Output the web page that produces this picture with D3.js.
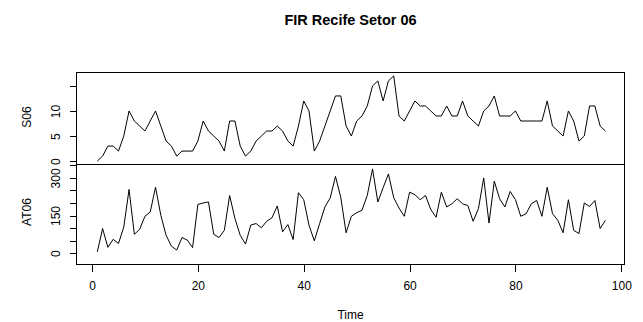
<!DOCTYPE html>
<html>
<head>
<meta charset="utf-8">
<script src="https://cdn.jsdelivr.net/npm/d3@7/dist/d3.min.js"></script>
<style>
  html, body { margin: 0; padding: 0; background: #fff; }
  svg { display: block; }
  text { font-family: "Liberation Sans", Arial, sans-serif; fill: #000; }
</style>
</head>
<body>
<svg id="chart" width="643" height="322"></svg>
<script>
// ---- data ----
const title = "FIR Recife Setor 06";
const xLabel = "Time";
const seriesNames = ["S06", "AT06"];
const S06 = [0,1,3,3,2,5,10,8,7,6,8,10,7,4,3,1,2,2,2,4,8,6,5,4,2,8,8,3,1,2,
  4,5,6,6,7,6,4,3,7,12,10,2,4,7,10,13,13,7,5,8,9,11,15,16,12,16,17,9,8,10,
  12,11,11,10,9,9,11,9,9,12,9,8,7,10,11,13,9,9,9,10,8,8,8,8,8,12,7,6,5,10,
  8,4,5,11,11,7,6];
const AT06 = [5,98,23,55,38,104,254,75,95,147,164,263,151,71,28,12,62,52,22,194,
  200,204,75,62,91,230,138,71,36,112,118,101,127,141,188,85,114,54,241,213,
  111,49,118,184,220,306,222,81,147,161,171,230,336,204,261,316,221,180,147,243,
  233,213,230,174,143,243,184,197,217,197,190,127,177,300,120,287,217,184,246,213,
  147,157,197,210,147,263,157,131,81,213,91,78,200,186,210,98,131];
const startTime = 1;
const xTicks = [0, 20, 40, 60, 80, 100];
const topTicks = [0, 5, 10, 15];
const topTickLabels = ["0", "5", "10", ""];
const botTicks = [0, 50, 100, 150, 200, 250, 300, 350];
const botTickLabels = ["0", "", "", "150", "", "", "300", ""];

// ---- layout ----
const svg = d3.select("#chart");
const L = 76.5, R = 624.5, T = 72.5, M = 164.5, B = 264.5;
const FONT = '"Liberation Sans", Arial, sans-serif';

const x = d3.scaleLinear().domain([-2.93, 100.6]).range([L, R]);
const yTop = d3.scaleLinear().domain([-0.68, 17.68]).range([M, T]);
const yBot = d3.scaleLinear().domain([-45.5, 353.6]).range([B, M]);

const time = S06.map((d, i) => startTime + i);

// series lines
const lineTop = d3.line().x((d, i) => x(time[i])).y(d => yTop(d));
const lineBot = d3.line().x((d, i) => x(time[i])).y(d => yBot(d));

svg.append("path").datum(S06).attr("d", lineTop)
  .attr("fill", "none").attr("stroke", "#000").attr("stroke-width", 1);
svg.append("path").datum(AT06).attr("d", lineBot)
  .attr("fill", "none").attr("stroke", "#000").attr("stroke-width", 1);

// panel boxes
[[T, M], [M, B]].forEach(([a, b]) => {
  svg.append("rect").attr("x", L).attr("y", a).attr("width", R - L).attr("height", b - a)
    .attr("fill", "none").attr("stroke", "#000").attr("stroke-width", 1)
    .attr("shape-rendering", "crispEdges");
});

// y axes
function yAxis(scale, ticks, labels) {
  const g = svg.append("g").attr("transform", `translate(${L},0)`)
    .call(d3.axisLeft(scale).tickValues(ticks).tickSize(7).tickSizeOuter(0)
      .tickFormat((d, i) => labels[i]));
  g.select(".domain").remove();
  g.selectAll("line").attr("stroke", "#000").attr("shape-rendering", "crispEdges");
  g.selectAll("text")
    .attr("transform", "rotate(-90)")
    .attr("x", 0).attr("y", -17).attr("dy", null)
    .attr("text-anchor", "middle")
    .style("font-size", "12px").style("font-family", FONT)
    .attr("fill", "#000");
  return g;
}
yAxis(yTop, topTicks, topTickLabels);
yAxis(yBot, botTicks, botTickLabels);

// x axis
const gx = svg.append("g").attr("transform", `translate(0,${B})`)
  .call(d3.axisBottom(x).tickValues(xTicks).tickSize(7).tickSizeOuter(0).tickFormat(d3.format("d")));
gx.select(".domain").remove();
gx.selectAll("line").attr("stroke", "#000").attr("shape-rendering", "crispEdges");
gx.selectAll("text").attr("y", 25).attr("dy", null)
  .style("font-size", "12px").style("font-family", FONT)
  .attr("fill", "#000");

// series names (y labels)
const labelCentres = [117, 212];
seriesNames.forEach((name, i) => {
  svg.append("text")
    .attr("transform", `translate(31,${labelCentres[i]}) rotate(-90)`)
    .attr("text-anchor", "middle")
    .style("font-size", "12px")
    .text(name);
});

// x label
svg.append("text").attr("x", (L + R) / 2).attr("y", 318.5)
  .attr("text-anchor", "middle").style("font-size", "12px").text(xLabel);

// title
svg.append("text").attr("x", (L + R) / 2).attr("y", 25)
  .attr("text-anchor", "middle").style("font-size", "14.5px").style("font-weight", "bold")
  .text(title);
</script>
</body>
</html>
